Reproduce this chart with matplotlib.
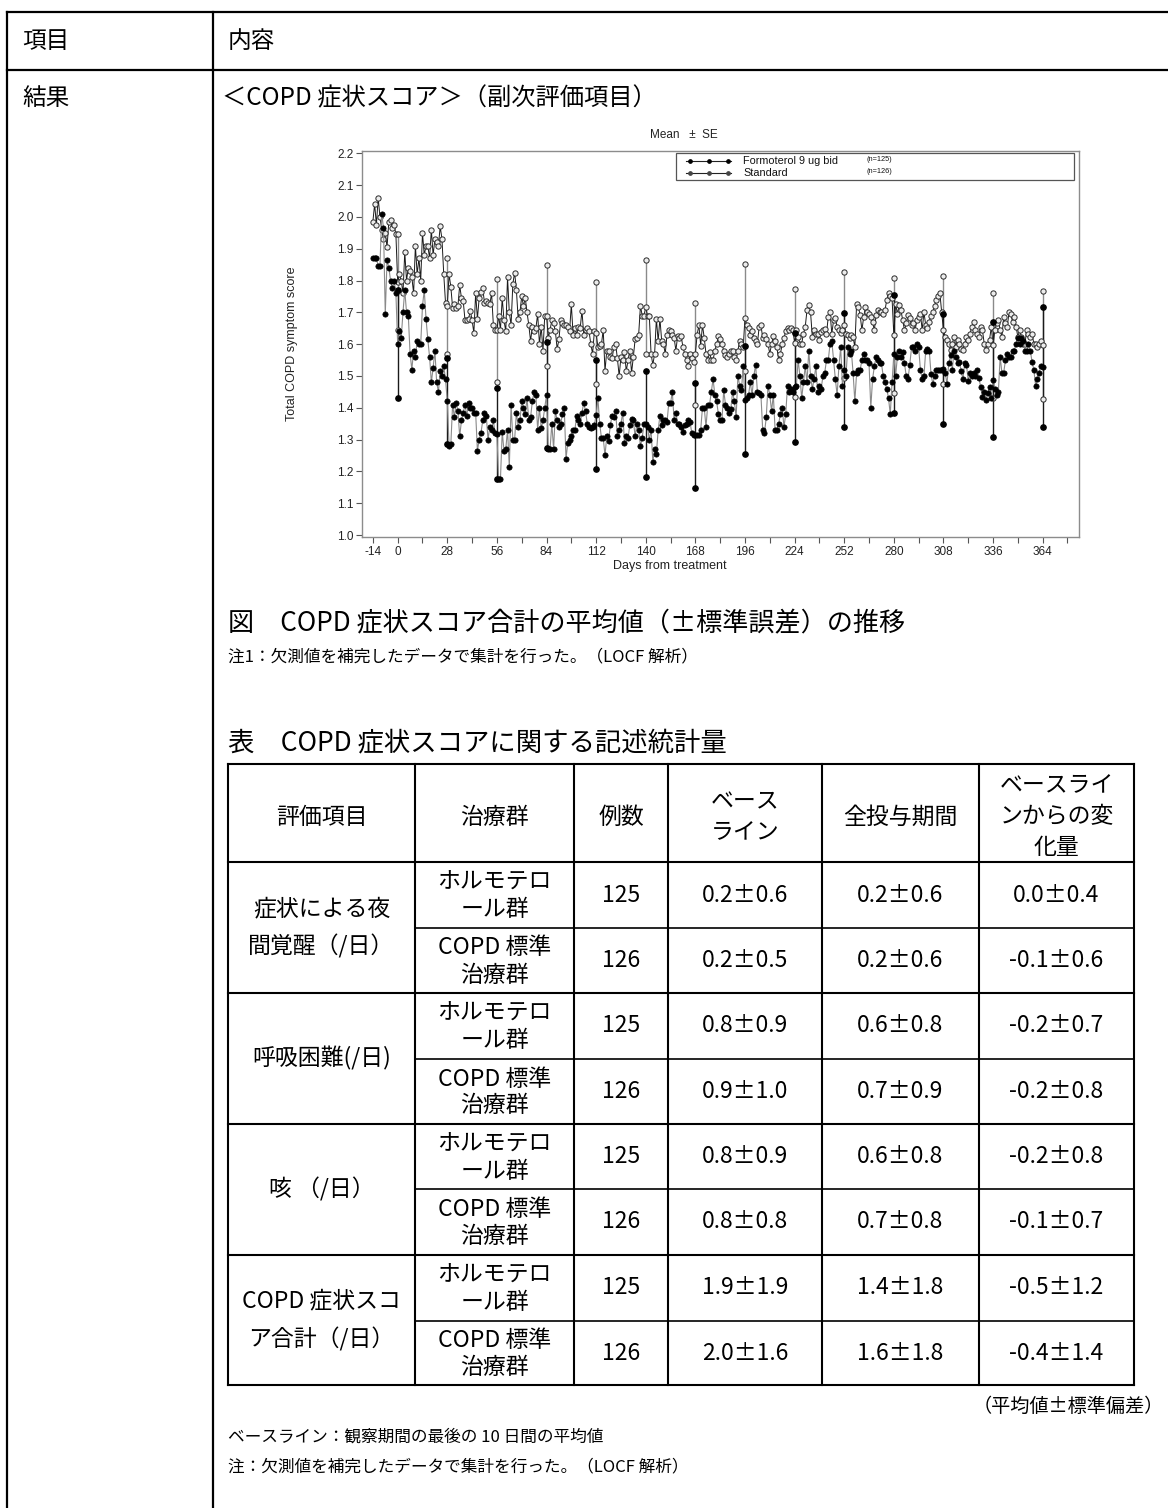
import matplotlib
matplotlib.use("Agg")
import matplotlib.pyplot as plt
from matplotlib.patches import Rectangle
import numpy as np

plt.rcParams['font.family'] = ['Noto Sans CJK JP', 'DejaVu Sans']

#---------- daily mean total symptom score, day -14 .. 364 ----------#
days = list(range(-14, 365))

formoterol = [
    1.87, 1.87, 1.87, 1.845, 1.845, 2.01, 1.965, 1.695, 1.865, 1.84, 1.80, 1.775, 1.80, 1.76,
    1.60, 1.64, 1.62, 1.70, 1.77, 1.70, 1.69, 1.57, 1.52, 1.58, 1.56, 1.61, 1.60, 1.60,
    1.72, 1.77, 1.68, 1.615, 1.56, 1.48, 1.525, 1.58, 1.48, 1.45, 1.515, 1.50, 1.53, 1.49,
    1.42, 1.28, 1.285, 1.41, 1.37, 1.415, 1.39, 1.31, 1.36, 1.385, 1.41, 1.375, 1.415, 1.40,
    1.40, 1.385, 1.385, 1.265, 1.30, 1.32, 1.36, 1.385, 1.375, 1.30, 1.34, 1.33, 1.36, 1.32,
    1.318, 1.175, 1.175, 1.325, 1.265, 1.27, 1.33, 1.215, 1.41, 1.30, 1.30, 1.385, 1.34, 1.36,
    1.42, 1.40, 1.38, 1.43, 1.36, 1.37, 1.42, 1.45, 1.44, 1.33, 1.40, 1.335, 1.36, 1.40,
    1.44, 1.27, 1.27, 1.35, 1.27, 1.39, 1.36, 1.34, 1.35, 1.38, 1.40, 1.24, 1.29, 1.30,
    1.31, 1.33, 1.33, 1.375, 1.36, 1.35, 1.385, 1.415, 1.39, 1.35, 1.34, 1.335, 1.34, 1.345,
    1.378, 1.43, 1.35, 1.305, 1.305, 1.25, 1.31, 1.295, 1.345, 1.375, 1.37, 1.39, 1.31, 1.33,
    1.35, 1.385, 1.29, 1.31, 1.305, 1.345, 1.365, 1.36, 1.31, 1.35, 1.33, 1.28, 1.305, 1.35,
    1.35, 1.34, 1.30, 1.33, 1.23, 1.27, 1.255, 1.33, 1.375, 1.345, 1.36, 1.36, 1.355, 1.415,
    1.415, 1.45, 1.36, 1.385, 1.35, 1.35, 1.34, 1.325, 1.345, 1.35, 1.36, 1.355, 1.32, 1.315,
    1.313, 1.315, 1.315, 1.33, 1.40, 1.40, 1.34, 1.41, 1.41, 1.45, 1.49, 1.44, 1.42, 1.38,
    1.36, 1.36, 1.455, 1.41, 1.40, 1.385, 1.395, 1.45, 1.42, 1.37, 1.50, 1.47, 1.455, 1.53,
    1.425, 1.43, 1.44, 1.48, 1.44, 1.50, 1.536, 1.45, 1.445, 1.44, 1.33, 1.32, 1.37, 1.47,
    1.44, 1.39, 1.44, 1.33, 1.33, 1.35, 1.38, 1.40, 1.34, 1.38, 1.47, 1.45, 1.46, 1.45,
    1.464, 1.47, 1.55, 1.50, 1.43, 1.48, 1.53, 1.48, 1.58, 1.50, 1.46, 1.49, 1.53, 1.45,
    1.47, 1.46, 1.50, 1.51, 1.55, 1.55, 1.60, 1.61, 1.55, 1.49, 1.44, 1.53, 1.59, 1.47,
    1.519, 1.50, 1.59, 1.57, 1.58, 1.51, 1.42, 1.51, 1.52, 1.52, 1.55, 1.57, 1.55, 1.55,
    1.54, 1.40, 1.49, 1.53, 1.56, 1.55, 1.54, 1.54, 1.50, 1.48, 1.46, 1.43, 1.38, 1.48,
    1.568, 1.50, 1.56, 1.58, 1.56, 1.575, 1.54, 1.50, 1.49, 1.535, 1.59, 1.59, 1.58, 1.60,
    1.59, 1.52, 1.49, 1.50, 1.58, 1.585, 1.58, 1.505, 1.475, 1.50, 1.52, 1.52, 1.52, 1.52,
    1.521, 1.51, 1.475, 1.54, 1.565, 1.52, 1.58, 1.56, 1.54, 1.545, 1.515, 1.49, 1.54, 1.535,
    1.485, 1.51, 1.50, 1.51, 1.50, 1.52, 1.495, 1.465, 1.435, 1.45, 1.425, 1.445, 1.465, 1.43,
    1.488, 1.46, 1.44, 1.45, 1.56, 1.51, 1.51, 1.55, 1.57, 1.56, 1.56, 1.58, 1.58, 1.60,
    1.62, 1.60, 1.62, 1.61, 1.58, 1.58, 1.60, 1.58, 1.545, 1.52, 1.47, 1.49, 1.51, 1.53,
    1.528,
]

standard = [
    1.985, 2.04, 1.975, 2.06, 2.00, 1.96, 1.93, 1.95, 1.905, 1.985, 1.99, 1.965, 1.975, 1.945,
    1.795, 1.82, 1.80, 1.76, 1.89, 1.80, 1.84, 1.83, 1.81, 1.76, 1.91, 1.82, 1.87, 1.80,
    1.95, 1.88, 1.91, 1.91, 1.87, 1.96, 1.88, 1.93, 1.92, 1.91, 1.97, 1.93, 1.82, 1.73,
    1.72, 1.82, 1.78, 1.715, 1.725, 1.715, 1.72, 1.785, 1.745, 1.735, 1.675, 1.675, 1.68, 1.705,
    1.675, 1.635, 1.76, 1.68, 1.745, 1.765, 1.775, 1.73, 1.735, 1.73, 1.725, 1.76, 1.66, 1.645,
    1.643, 1.69, 1.645, 1.745, 1.675, 1.64, 1.81, 1.70, 1.66, 1.79, 1.825, 1.77, 1.68, 1.70,
    1.75, 1.72, 1.745, 1.70, 1.66, 1.61, 1.655, 1.64, 1.65, 1.695, 1.60, 1.655, 1.58, 1.69,
    1.69, 1.62, 1.645, 1.675, 1.665, 1.64, 1.585, 1.615, 1.675, 1.665, 1.66, 1.66, 1.655, 1.64,
    1.725, 1.63, 1.65, 1.63, 1.655, 1.65, 1.705, 1.63, 1.645, 1.65, 1.64, 1.60, 1.57, 1.64,
    1.635, 1.59, 1.595, 1.60, 1.645, 1.515, 1.58, 1.58, 1.56, 1.555, 1.59, 1.60, 1.555, 1.50,
    1.56, 1.55, 1.575, 1.515, 1.55, 1.58, 1.51, 1.56, 1.615, 1.62, 1.63, 1.72, 1.69, 1.69,
    1.717, 1.69, 1.69, 1.57, 1.535, 1.57, 1.68, 1.61, 1.68, 1.61, 1.60, 1.57, 1.63, 1.645,
    1.64, 1.63, 1.62, 1.58, 1.625, 1.62, 1.625, 1.59, 1.57, 1.55, 1.53, 1.57, 1.555, 1.545,
    1.57, 1.63, 1.66, 1.595, 1.66, 1.62, 1.57, 1.55, 1.575, 1.55, 1.55, 1.58, 1.60, 1.625,
    1.615, 1.60, 1.58, 1.565, 1.56, 1.57, 1.58, 1.58, 1.56, 1.55, 1.58, 1.61, 1.60, 1.59,
    1.683, 1.66, 1.65, 1.63, 1.64, 1.62, 1.61, 1.60, 1.655, 1.66, 1.62, 1.63, 1.615, 1.60,
    1.57, 1.60, 1.625, 1.61, 1.59, 1.55, 1.57, 1.60, 1.62, 1.64, 1.65, 1.645, 1.65, 1.645,
    1.604, 1.644, 1.623, 1.602, 1.602, 1.633, 1.654, 1.707, 1.722, 1.70, 1.623, 1.644, 1.633, 1.633,
    1.613, 1.639, 1.644, 1.649, 1.633, 1.686, 1.70, 1.633, 1.675, 1.681, 1.654, 1.644, 1.635, 1.644,
    1.66, 1.633, 1.629, 1.618, 1.629, 1.623, 1.59, 1.727, 1.717, 1.691, 1.644, 1.686, 1.717, 1.70,
    1.696, 1.686, 1.67, 1.644, 1.691, 1.707, 1.70, 1.70, 1.696, 1.707, 1.738, 1.76, 1.75, 1.744,
    1.628, 1.727, 1.696, 1.722, 1.707, 1.675, 1.644, 1.665, 1.691, 1.681, 1.66, 1.665, 1.644, 1.675,
    1.686, 1.696, 1.644, 1.70, 1.66, 1.65, 1.67, 1.69, 1.70, 1.72, 1.74, 1.75, 1.76, 1.70,
    1.645, 1.623, 1.613, 1.602, 1.581, 1.602, 1.623, 1.592, 1.613, 1.602, 1.586, 1.581, 1.602, 1.623,
    1.613, 1.633, 1.654, 1.67, 1.644, 1.633, 1.623, 1.654, 1.644, 1.602, 1.581, 1.602, 1.613, 1.654,
    1.596, 1.644, 1.665, 1.675, 1.644, 1.623, 1.686, 1.665, 1.654, 1.70, 1.696, 1.67, 1.686, 1.654,
    1.623, 1.644, 1.623, 1.602, 1.602, 1.644, 1.633, 1.623, 1.633, 1.602, 1.602, 1.592, 1.602, 1.61,
    1.596,
]

# SE bars every 4 weeks
se_days = [0, 28, 56, 84, 112, 140, 168, 196, 224, 252, 280, 308, 336, 364]
se_form = [0.17, 0.135, 0.143, 0.167, 0.172, 0.167, 0.166, 0.17, 0.172, 0.18, 0.186, 0.173, 0.181, 0.19]
se_std = [0.15, 0.15, 0.163, 0.16, 0.16, 0.147, 0.16, 0.168, 0.169, 0.166, 0.18, 0.17, 0.166, 0.17]

y_ticks = [1.0, 1.1, 1.2, 1.3, 1.4, 1.5, 1.6, 1.7, 1.8, 1.9, 2.0, 2.1, 2.2]
x_labeled = [-14, 0, 28, 56, 84, 112, 140, 168, 196, 224, 252, 280, 308, 336, 364]
x_minor = [14, 42, 70, 98, 126, 154, 182, 210, 238, 266, 294, 322, 350, 378]

#---------- table ----------#
endpoints = [["症状による夜", "間覚醒（/日）"], ["呼吸困難(/日)"], ["咳 （/日）"],
             ["COPD 症状スコ", "ア合計（/日）"]]
arms = [["ホルモテロ", "ール群"], ["COPD 標準", "治療群"]]
n_cases = [125, 126, 125, 126, 125, 126, 125, 126]
baseline = ["0.2±0.6", "0.2±0.5", "0.8±0.9", "0.9±1.0", "0.8±0.9", "0.8±0.8", "1.9±1.9", "2.0±1.6"]
whole_period = ["0.2±0.6", "0.2±0.6", "0.6±0.8", "0.7±0.9", "0.6±0.8", "0.7±0.8", "1.4±1.8", "1.6±1.8"]
change = ["0.0±0.4", "-0.1±0.6", "-0.2±0.7", "-0.2±0.8", "-0.2±0.8", "-0.1±0.7", "-0.5±1.2", "-0.4±1.4"]
headers = [["評価項目"], ["治療群"], ["例数"], ["ベース", "ライン"], ["全投与期間"],
           ["ベースライ", "ンからの変", "化量"]]

W, H = 1168, 1508
fig = plt.figure(figsize=(W / 100, H / 100), dpi=100)

#---------- page frame and text (pixel coords) ----------#
doc = fig.add_axes([0, 0, 1, 1])
doc.set_xlim(0, W)
doc.set_ylim(H, 0)
doc.axis('off')

lw_out = 1.6
doc.plot([7, W], [12, 12], color='black', lw=lw_out)
doc.plot([7, W], [70, 70], color='black', lw=lw_out)
doc.plot([7, 7], [12, H], color='black', lw=lw_out)
doc.plot([213, 213], [12, H], color='black', lw=lw_out)

fs_big = 17
doc.text(22, 41, "項目", fontsize=fs_big, va='center')
doc.text(228, 41, "内容", fontsize=fs_big, va='center')
doc.text(22, 98, "結果", fontsize=fs_big, va='center')
doc.text(222, 98, "＜COPD 症状スコア＞（副次評価項目）", fontsize=17.5, va='center')

doc.text(228, 624, "図　COPD 症状スコア合計の平均値（±標準誤差）の推移", fontsize=18.8, va='center')
doc.text(228, 657, "注1：欠測値を補完したデータで集計を行った。（LOCF 解析）", fontsize=12, va='center')
doc.text(228, 743, "表　COPD 症状スコアに関する記述統計量", fontsize=19, va='center')

# table grid
cols = [228, 415, 574, 668, 822, 979, 1134]
rows = [764, 862, 928, 993, 1059, 1124, 1189, 1255, 1321, 1385]
for x in cols:
    doc.plot([x, x], [rows[0], rows[-1]], color='black', lw=1.5)
for k, y in enumerate(rows):
    if k >= 2 and k % 2 == 0:
        doc.plot([cols[1], cols[-1]], [y, y], color='black', lw=1.2)
    else:
        doc.plot([cols[0], cols[-1]], [y, y], color='black', lw=1.5)

fs_tab = 16.5
line_gap = 27

def cell_text(cx, cy, lines, gap=line_gap):
    top = cy - gap * (len(lines) - 1) / 2
    for j, s in enumerate(lines):
        doc.text(cx, top + j * gap, s, fontsize=fs_tab, ha='center', va='center')

header_mid = 817
for c, lines in enumerate(headers):
    cell_text((cols[c] + cols[c + 1]) / 2, header_mid, lines, gap=31)

for g in range(4):
    g_top, g_bot = rows[1 + 2 * g], rows[3 + 2 * g]
    cell_text((cols[0] + cols[1]) / 2, (g_top + g_bot) / 2, endpoints[g], gap=38)
    for a in range(2):
        r = 2 * g + a
        cy = (rows[1 + r] + rows[2 + r]) / 2
        cell_text((cols[1] + cols[2]) / 2, cy + 1, arms[a])
        cell_text((cols[2] + cols[3]) / 2, cy, [str(n_cases[r])])
        cell_text((cols[3] + cols[4]) / 2, cy, [baseline[r]])
        cell_text((cols[4] + cols[5]) / 2, cy, [whole_period[r]])
        cell_text((cols[5] + cols[6]) / 2, cy, [change[r]])

doc.text(1164, 1406, "（平均値±標準偏差）", fontsize=13.8, ha='right', va='center')
doc.text(228, 1437, "ベースライン：観察期間の最後の 10 日間の平均値", fontsize=12, va='center')
doc.text(228, 1467, "注：欠測値を補完したデータで集計を行った。（LOCF 解析）", fontsize=12, va='center')

#---------- chart ----------#
ax = fig.add_axes([361.7 / W, 1 - 537.3 / H, (1079 - 361.7) / W, (537.3 - 151) / H])
arial = ['Liberation Sans', 'DejaVu Sans']

ax.plot(days, standard, '-', color='#1a1a1a', lw=0.7, marker='o', ms=3.8,
        mfc='#ececec', mec='#2a2a2a', mew=0.7, zorder=3)
ax.plot(days, formoterol, '-', color='#8a8a8a', lw=0.8, marker='o', ms=3.8,
        mfc='black', mec='black', mew=0.5, zorder=4)

for d, sf, ss in zip(se_days, se_form, se_std):
    mf = formoterol[days.index(d)]
    ms_ = standard[days.index(d)]
    ax.plot([d, d], [ms_ - ss, ms_ + ss], '-', color='#8a8a8a', lw=1.0, zorder=2)
    ax.plot([d, d], [ms_ - ss, ms_ + ss], 'o', ms=3.8, mfc='#ececec', mec='#2a2a2a', mew=0.7, zorder=3)
    ax.plot([d, d], [mf - sf, mf + sf], '-', color='#1a1a1a', lw=1.0, zorder=2)
    ax.plot([d, d], [mf - sf, mf + sf], 'o', ms=3.8, mfc='black', mec='black', zorder=4)

ax.set_xlim(-20.3, 384.5)
ax.set_ylim(0.9928, 2.2072)
ax.set_yticks(y_ticks)
ax.set_yticklabels([f"{v:.1f}" for v in y_ticks], family=arial)
ax.set_xticks(x_labeled)
ax.set_xticklabels([str(v) for v in x_labeled], family=arial)
ax.set_xticks(x_minor, minor=True)
ax.tick_params(axis='both', which='both', labelsize=8.5, colors='#555555', labelcolor='#222222',
               length=4, width=0.8, direction='out', pad=2)
for s in ax.spines.values():
    s.set_color('#8c8c8c')
    s.set_linewidth(1.0)

ax.set_ylabel("Total COPD symptom score", family=arial, fontsize=9, color='#222222', labelpad=28)
ax.set_xlabel("Days from treatment", family=arial, fontsize=9, color='#222222')
ax.xaxis.set_label_coords(0.43, -0.058)
fig.text(684 / W, 1 - 135 / H, "Mean   ±  SE", family=arial, fontsize=8.5, color='#222222',
         ha='center', va='center')

# legend box
ax.add_patch(Rectangle((0.438, 0.925), 0.555, 0.069, transform=ax.transAxes, fill=False,
                       ec='#555555', lw=0.9, zorder=6))
leg_rows = [(0.9745, 'black', "Formoterol 9 ug bid", "(n=125)"),
            (0.9435, '#444444', "Standard", "(n=126)")]
for yy, col, name, n_txt in leg_rows:
    ax.plot([0.4517, 0.5149], [yy, yy], '-', color='#222222', lw=0.8, transform=ax.transAxes, zorder=7)
    ax.plot([0.4577, 0.4842, 0.5107], [yy] * 3, 'o', ms=2.4, mfc=col, mec=col,
            transform=ax.transAxes, zorder=7)
    ax.text(0.5316, yy, name, transform=ax.transAxes, family=arial, fontsize=7.8,
            va='center', ha='left', color='#111111', zorder=7)
    ax.text(0.704, yy + 0.004, n_txt, transform=ax.transAxes, family=arial, fontsize=5.3,
            va='center', ha='left', color='#111111', zorder=7)

fig.savefig("out.png", dpi=100)
